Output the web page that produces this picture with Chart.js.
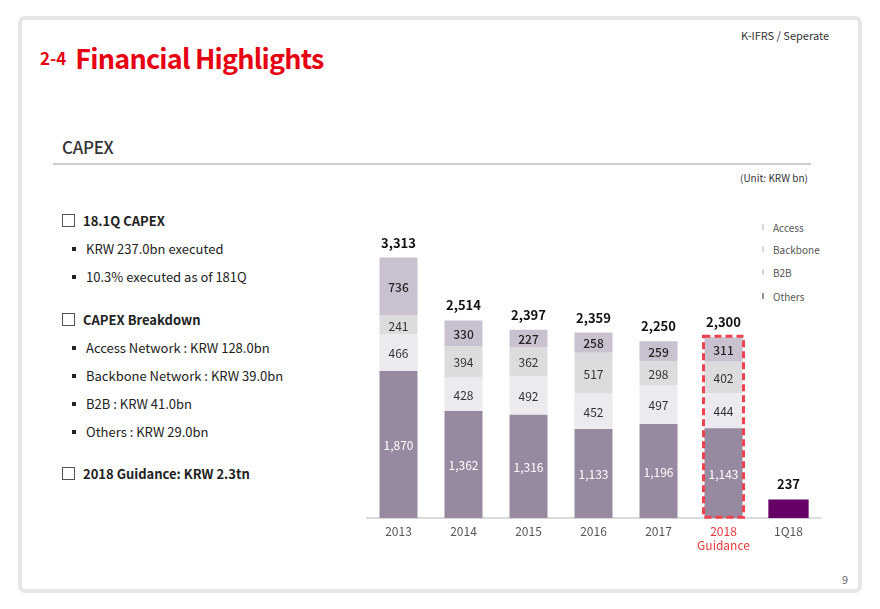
<!DOCTYPE html>
<html>
<head>
<meta charset="utf-8">
<script src="https://cdn.jsdelivr.net/npm/chart.js@4/dist/chart.umd.min.js"></script>
<style>
  html,body{margin:0;padding:0;background:#fff;}
  body{width:880px;height:609px;position:relative;overflow:hidden;font-family:"Noto Sans CJK KR","Noto Sans",sans-serif;color:#222;}
  .frame{position:absolute;left:18px;top:16px;width:836px;height:569px;border:4px solid #e6e6e6;border-radius:7px;}
  .abs{position:absolute;white-space:nowrap;}
  .title{left:40px;top:38px;color:#e60012;font-weight:700;}
  .title .num{font-size:17px;vertical-align:4px;margin-right:9px;}
  .title .big{font-size:27px;letter-spacing:-0.8px;}
  .note{right:51px;top:27px;font-size:11px;color:#333;}
  .sect{left:62px;top:134px;font-size:17px;color:#333;font-weight:500;letter-spacing:-0.3px;}
  .rule{position:absolute;left:53px;top:163px;width:758px;height:2px;background:#cfcfcf;}
  .unit{left:740px;top:170px;font-size:10px;color:#333;}
  .page{left:842px;top:571px;font-size:11px;color:#666;}
  .lt{font-size:13px;color:#222;}
  .hd{font-weight:700;}
  .box{display:inline-block;width:11px;height:11px;border:1px solid #555;margin-right:8px;vertical-align:-1px;}
  .sq{display:inline-block;width:4px;height:4px;background:#222;margin-right:10px;vertical-align:3px;}
  #chartWrap{position:absolute;left:366px;top:235px;width:455px;height:324px;}
  .leg{position:absolute;font-size:10px;color:#555;}
  .leg i{position:absolute;left:-11px;top:4px;width:2px;height:6px;}
</style>
</head>
<body>
<div class="frame"></div>
<div class="abs note">K-IFRS / Seperate</div>
<div class="abs title"><span class="num">2-4</span><span class="big">Financial Highlights</span></div>
<div class="abs sect">CAPEX</div>
<div class="rule"></div>
<div class="abs unit">(Unit: KRW bn)</div>
<div class="abs page">9</div>

<div class="abs lt hd" style="left:62px;top:211px;"><span class="box"></span>18.1Q CAPEX</div>
<div class="abs lt" style="left:72px;top:239px;"><span class="sq"></span>KRW 237.0bn executed</div>
<div class="abs lt" style="left:72px;top:267px;"><span class="sq"></span>10.3% executed as of 181Q</div>
<div class="abs lt hd" style="left:62px;top:310px;"><span class="box"></span>CAPEX Breakdown</div>
<div class="abs lt" style="left:72px;top:338px;"><span class="sq"></span>Access Network : KRW 128.0bn</div>
<div class="abs lt" style="left:72px;top:366px;"><span class="sq"></span>Backbone Network : KRW 39.0bn</div>
<div class="abs lt" style="left:72px;top:394px;"><span class="sq"></span>B2B : KRW 41.0bn</div>
<div class="abs lt" style="left:72px;top:422px;"><span class="sq"></span>Others : KRW 29.0bn</div>
<div class="abs lt hd" style="left:62px;top:464px;"><span class="box"></span>2018 Guidance: KRW 2.3tn</div>

<div id="legend"></div>
<div id="chartWrap"><canvas id="c"></canvas></div>

<script>
// ---- data ----
const categories = [['2013'], ['2014'], ['2015'], ['2016'], ['2017'], ['2018', 'Guidance'], ['1Q18']];
const seriesNames = ['Access', 'Backbone', 'B2B', 'Others'];
const access   = [1870, 1362, 1316, 1133, 1196, 1143, null];
const backbone = [466, 428, 492, 452, 497, 444, null];
const b2b      = [241, 394, 362, 517, 298, 402, null];
const others   = [736, 330, 227, 258, 259, 311, null];
const q1Total  = [null, null, null, null, null, null, 237];
const totals   = [3313, 2514, 2397, 2359, 2250, 2300, 237];
const guidanceIndex = 5;

// ---- styles ----
const seriesColors = ['#978aa0', '#ece9ef', '#dcdbdd', '#c9c1cf'];
const q1Color = '#660066';
const labelColors = ['#ffffff', '#333333', '#333333', '#222222'];
const fontFam = '"Noto Sans CJK KR","Noto Sans",sans-serif';

// legend (HTML)
const legTop = [220, 242, 265, 289];
const legEl = document.getElementById('legend');
seriesNames.forEach((n, i) => {
  const d = document.createElement('div');
  d.className = 'leg';
  d.style.left = '773px';
  d.style.top = legTop[i] + 'px';
  d.innerHTML = '<i style="background:' + (i === 3 ? '#9a8fa3' : '#dcd8e0') + '"></i>' + n;
  legEl.appendChild(d);
});

const seriesData = [access, backbone, b2b, others];
const datasets = seriesData.map((arr, i) => ({
  label: seriesNames[i],
  data: arr,
  backgroundColor: seriesColors[i],
  stack: 's',
  categoryPercentage: 1,
  barPercentage: 0.585
}));
datasets.push({
  label: '1Q18',
  data: q1Total,
  backgroundColor: q1Color,
  stack: 's',
  categoryPercentage: 1,
  barPercentage: 0.62
});

const fmt = v => v.toLocaleString('en-US');

const labelPlugin = {
  id: 'labels',
  afterDatasetsDraw(chart) {
    const ctx = chart.ctx;
    ctx.save();
    ctx.textAlign = 'center';
    ctx.textBaseline = 'middle';
    for (let d = 0; d < 4; d++) {
      const meta = chart.getDatasetMeta(d);
      meta.data.forEach((el, i) => {
        const v = seriesData[d][i];
        if (v == null) return;
        const cy = (el.y + el.base) / 2;
        ctx.fillStyle = labelColors[d];
        ctx.font = (d === 3 ? '500 ' : '400 ') + '12px ' + fontFam;
        ctx.fillText(fmt(v), el.x, cy + 1);
      });
    }
    const yScale = chart.scales.y;
    const xScale = chart.scales.x;
    ctx.fillStyle = '#111';
    ctx.font = '600 13px ' + fontFam;
    totals.forEach((t, i) => {
      const x = xScale.getPixelForValue(i);
      const y = yScale.getPixelForValue(t);
      ctx.fillText(fmt(t), x, y - 15);
    });
    const topEl = chart.getDatasetMeta(3).data[guidanceIndex];
    const baseY = yScale.getPixelForValue(0);
    const w = topEl.width;
    ctx.strokeStyle = '#f0414f';
    ctx.lineWidth = 3;
    ctx.setLineDash([7, 4]);
    ctx.strokeRect(topEl.x - w / 2 - 1, topEl.y - 1, w + 2, baseY - topEl.y);
    ctx.restore();
  }
};

new Chart(document.getElementById('c'), {
  type: 'bar',
  data: { labels: categories, datasets },
  plugins: [labelPlugin],
  options: {
    responsive: true,
    maintainAspectRatio: false,
    animation: false,
    layout: { padding: 0 },
    plugins: { legend: { display: false }, tooltip: { enabled: false } },
    scales: {
      x: {
        stacked: true,
        grid: { display: false, drawTicks: false },
        border: { display: true, color: '#dcdcdc', width: 2 },
        ticks: {
          padding: 6,
          font: { size: 12, family: fontFam },
          color: ctx => ctx.index === guidanceIndex ? '#e8383d' : '#555555'
        }
      },
      y: {
        stacked: true,
        display: false,
        min: 0,
        max: 3600
      }
    }
  }
});
</script>
</body>
</html>
